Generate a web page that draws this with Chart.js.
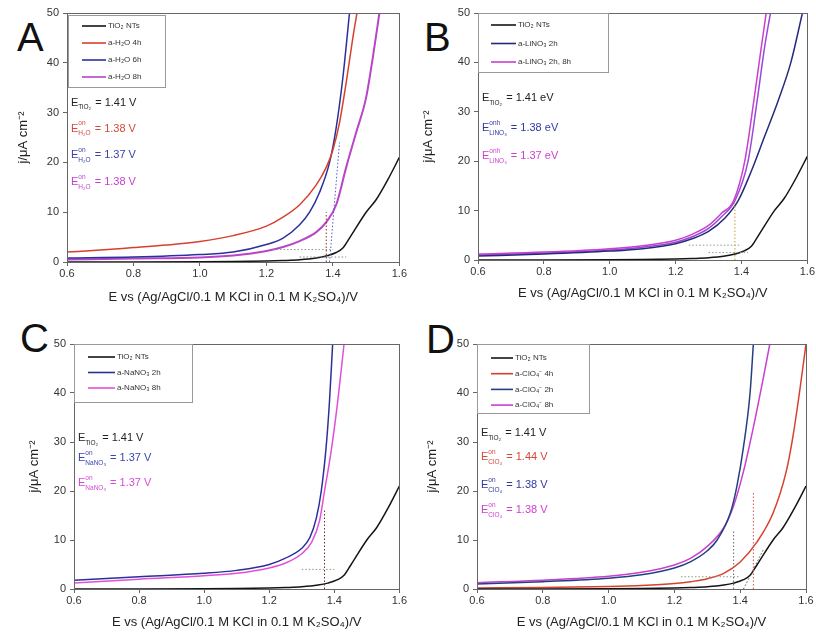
<!DOCTYPE html>
<html><head><meta charset="utf-8">
<script src="https://cdn.jsdelivr.net/npm/chart.js@4"></script>
<style>
body{margin:0;background:#fff;width:816px;height:637px;position:relative;overflow:hidden;font-family:"Liberation Sans",Arial,sans-serif;}
.panel{position:absolute;}
.letter{position:absolute;font-size:40px;line-height:40px;color:#111;font-family:"Liberation Sans",Arial,sans-serif;}
</style></head>
<body>
<div class="letter" style="left:17px;top:17px">A</div>
<div class="letter" style="left:424px;top:17px">B</div>
<div class="letter" style="left:20px;top:318px">C</div>
<div class="letter" style="left:426px;top:319px">D</div>
<div class="panel" style="left:0;top:0;width:408px;height:318px"><canvas id="cA"></canvas></div>
<div class="panel" style="left:406px;top:0;width:410px;height:318px"><canvas id="cB"></canvas></div>
<div class="panel" style="left:0;top:318px;width:408px;height:319px"><canvas id="cC"></canvas></div>
<div class="panel" style="left:406px;top:318px;width:410px;height:319px"><canvas id="cD"></canvas></div>
<script>
// ---------- data ----------
const X_TICKS = [0.6, 0.8, 1.0, 1.2, 1.4, 1.6];
const Y_TICKS = [0, 10, 20, 30, 40, 50];

const TIO2_E = [0.6,0.8,1.0,1.1,1.2,1.25,1.3,1.35,1.38,1.41,1.43,1.45,1.5,1.53,1.565,1.6];
const TIO2_J = [0,0,0.05,0.1,0.2,0.3,0.45,0.8,1.2,1.9,2.8,4.8,10,12.5,16.5,21];

// Panel A
const A_R_E = [0.6,0.7,0.8,0.9,1.0,1.1,1.2,1.25,1.3,1.35,1.38,1.4,1.42,1.44,1.46,1.475];
const A_R_J = [2,2.4,2.9,3.4,4.1,5.3,7.2,9,11.5,15.5,19,22.5,28,36,45,51];
const A_B_E = [0.6,0.8,1.0,1.1,1.2,1.25,1.3,1.33,1.36,1.39,1.41,1.43,1.45];
const A_B_J = [0.8,1.0,1.5,2.0,3.5,4.8,7.5,10,14,20,27,37,50];
const A_M_E = [0.6,0.8,1.0,1.1,1.2,1.25,1.3,1.35,1.38,1.41,1.44,1.47,1.5,1.52,1.54];
const A_M_J = [0.5,0.7,0.9,1.3,2.2,3.0,4.2,6,8,11.5,19,26,33,41,50];

// Panel B
const B_K_E = [0.6,0.8,1.0,1.1,1.2,1.25,1.3,1.35,1.39,1.43,1.47,1.51,1.55,1.585];
const B_K_J = [0.8,1.2,1.8,2.3,3.3,4.3,5.8,8.5,12,18,25,32,40,50];
const B_M_E = [0.6,0.8,1.0,1.1,1.2,1.25,1.3,1.34,1.376,1.41,1.437,1.46,1.475];
const B_M_J = [1.2,1.6,2.3,2.9,4.0,5.2,7.0,9.5,12,20,32,43,50];
const B_V_E = [0.6,0.8,1.0,1.1,1.2,1.25,1.3,1.34,1.38,1.42,1.447,1.47,1.488];
const B_V_J = [1.0,1.4,2.0,2.6,3.6,4.7,6.4,8.8,12,20,32,43,50];

// Panel C
const C_B_E = [0.6,0.8,1.0,1.1,1.2,1.25,1.3,1.325,1.345,1.36,1.375,1.385,1.395];
const C_B_J = [1.8,2.5,3.2,3.8,5.0,6.3,8.3,10.5,14.5,20,29,38,50];
const C_M_E = [0.6,0.8,1.0,1.1,1.2,1.25,1.3,1.33,1.355,1.37,1.39,1.41,1.43];
const C_M_J = [1.2,2.0,2.7,3.2,4.3,5.3,7.2,9.5,14,20,28,38,50];

// Panel D
const D_R_E = [0.6,0.8,1.0,1.1,1.2,1.25,1.3,1.35,1.4,1.45,1.5,1.54,1.56,1.58,1.6];
const D_R_J = [0.2,0.3,0.5,0.7,1.1,1.5,2.1,3.2,5.5,9.5,15.5,24,31,40,50];
const D_B_E = [0.6,0.8,1.0,1.1,1.2,1.25,1.3,1.33,1.37,1.39,1.41,1.43,1.44];
const D_B_J = [1.0,1.5,2.2,2.9,4.3,5.6,7.8,10,15.5,21,29,40,50];
const D_M_E = [0.6,0.8,1.0,1.1,1.2,1.25,1.3,1.35,1.38,1.41,1.44,1.47,1.49];
const D_M_J = [1.3,1.8,2.6,3.4,4.9,6.3,8.7,12.5,17,24,33,43,50];

// onset construction (dotted) lines
const A_T1_E = [1.38,1.38], A_T1_J = [0,10];
const A_T2_E = [1.22,1.40], A_T2_J = [2.5,2.5];
const A_T3_E = [1.30,1.44], A_T3_J = [1.0,1.0];
const A_T4_E = [1.39,1.42], A_T4_J = [0,24];
const B_T1_E = [1.38,1.38], B_T1_J = [0,12];
const B_T2_E = [1.24,1.40], B_T2_J = [3,3];
const B_T3_E = [1.30,1.42], B_T3_J = [1.5,1.5];
const C_T1_E = [1.37,1.37], C_T1_J = [0,16];
const C_T2_E = [1.30,1.40], C_T2_J = [4,4];
const D_T1_E = [1.38,1.38], D_T1_J = [0,12];
const D_T2_E = [1.44,1.44], D_T2_J = [0,20];
const D_T3_E = [1.22,1.40], D_T3_J = [2.5,2.5];
const D_T4_E = [1.41,1.47], D_T4_J = [0,8];

const Y_TITLE = 'j/\u03bcA cm\u207b\u00b2';
const X_TITLE = 'E vs (Ag/AgCl/0.1 M KCl in 0.1 M K\u2082SO\u2084)/V';

// ---------- helpers ----------
function pts(E, J){ return E.map((e,i)=>({x:e, y:J[i]})); }
function line(label, E, J, color, w){
  return {label, data:pts(E,J), borderColor:color, backgroundColor:color, borderWidth:w||1.5,
          pointRadius:0, cubicInterpolationMode:'monotone', fill:false};
}
function dots(E, J, color){
  return {label:'', data:pts(E,J), borderColor:color, borderWidth:1, borderDash:[1.5,2],
          pointRadius:0, fill:false, _aux:true};
}

Chart.defaults.font.family = '"Liberation Sans", Arial, sans-serif';
Chart.defaults.animation = false;

const framePlugin = {
  id:'frame',
  afterDatasetsDraw(chart){
    const {ctx, chartArea:a} = chart;
    ctx.save(); ctx.strokeStyle='#666'; ctx.lineWidth=1;
    ctx.strokeRect(Math.round(a.left)+0.5, Math.round(a.top)+0.5, Math.round(a.right-a.left), Math.round(a.bottom-a.top));
    ctx.restore();
  }
};

const boxLegend = {
  id:'boxLegend',
  afterDatasetsDraw(chart, args, o){
    const {ctx, chartArea:a} = chart;
    const x0 = a.left + o.dx, y0 = a.top + o.dy;
    ctx.save();
    ctx.fillStyle='#fff'; ctx.fillRect(x0, y0, o.w, o.h);
    ctx.strokeStyle='#999'; ctx.lineWidth=1;
    ctx.strokeRect(Math.round(x0)+0.5, Math.round(y0)+0.5, o.w, o.h);
    ctx.font = '8px "Liberation Sans", Arial, sans-serif';
    ctx.textBaseline='middle';
    let i=0;
    chart.data.datasets.forEach(ds=>{
      if (ds._aux || ds._nolegend) return;
      const y = y0 + o.first + i*o.step;
      ctx.strokeStyle = ds.borderColor; ctx.lineWidth=1.6;
      ctx.beginPath(); ctx.moveTo(x0+o.x1, y); ctx.lineTo(x0+o.x2, y); ctx.stroke();
      ctx.fillStyle='#333'; ctx.fillText(ds.label, x0+o.x2+2, y);
      i++;
    });
    ctx.restore();
  }
};

const eLabels = {
  id:'eLabels',
  afterDatasetsDraw(chart, args, o){
    const {ctx, chartArea:a, scales:{y}} = chart;
    ctx.save();
    ctx.textBaseline='middle';
    o.items.forEach(it=>{
      let x = a.left + o.dx;
      const yy = y.getPixelForValue(it.at);
      ctx.fillStyle = it.color;
      ctx.font = '11px "Liberation Sans", Arial, sans-serif';
      ctx.fillText('E', x, yy);
      x += ctx.measureText('E').width;
      ctx.font = '6.5px "Liberation Sans", Arial, sans-serif';
      let ws = 0, wb = 0;
      if (it.sup){ ctx.fillText(it.sup, x, yy-5); ws = ctx.measureText(it.sup).width; }
      if (it.sub){ ctx.fillText(it.sub, x, yy+5); wb = ctx.measureText(it.sub).width; }
      x += Math.max(ws, wb) + 1;
      ctx.font = '11px "Liberation Sans", Arial, sans-serif';
      ctx.fillText(it.rest, x, yy);
    });
    ctx.restore();
  }
};

function makePanel(id, W, H, pad, yW, xH, ytPad, xtPad, datasets, legendOpt, eItems){
  const cv = document.getElementById(id);
  cv.width = W; cv.height = H;
  cv.style.width = W+'px'; cv.style.height = H+'px';
  new Chart(cv, {
    type:'line',
    data:{datasets},
    options:{
      responsive:false, maintainAspectRatio:false,
      layout:{padding:pad},
      plugins:{legend:{display:false}, tooltip:{enabled:false},
               boxLegend:legendOpt, eLabels:{dx:4, items:eItems}},
      scales:{
        x:{type:'linear', min:0.6, max:1.6,
           afterBuildTicks:s=>{ s.ticks = X_TICKS.map(v=>({value:v})); },
           afterFit:s=>{ s.height = xH; },
           ticks:{callback:v=>Number(v).toFixed(1), color:'#333', font:{size:11}, padding:1, maxRotation:0},
           grid:{drawOnChartArea:false, drawTicks:true, tickLength:4, color:'#666'},
           border:{color:'#666'},
           title:{display:true, text:X_TITLE, color:'#222', font:{size:13}, padding:{top:0,bottom:xtPad}}},
        y:{type:'linear', min:0, max:50,
           afterBuildTicks:s=>{ s.ticks = Y_TICKS.map(v=>({value:v})); },
           afterFit:s=>{ s.width = yW; },
           ticks:{color:'#333', font:{size:11}, padding:4},
           grid:{drawOnChartArea:false, drawTicks:true, tickLength:4, color:'#666'},
           border:{color:'#666'},
           title:{display:true, text:Y_TITLE, color:'#222', font:{size:13}, padding:{top:ytPad,bottom:0}}}
      }
    },
    plugins:[framePlugin, boxLegend, eLabels]
  });
}

const BLACK='#151515', RED='#d8402e', BLUE='#2b2f9c', MAG='#c93fd0', VIO='#9a48d8', PINK='#e050d8';

makePanel('cA', 408, 318, {top:13,right:8,left:0,bottom:0}, 67, 56, 16, 13, [
  dots(A_T2_E, A_T2_J, '#7fa07f'), dots(A_T3_E, A_T3_J, '#888'),
  dots(A_T1_E, A_T1_J, '#8a2a2a'), dots(A_T4_E, A_T4_J, '#4a5ad0'),
  line('TiO\u2082 NTs', TIO2_E, TIO2_J, BLACK),
  line('a-H\u2082O 4h', A_R_E, A_R_J, RED),
  line('a-H\u2082O 6h', A_B_E, A_B_J, BLUE),
  line('a-H\u2082O 8h', A_M_E, A_M_J, '#b844c8', 2)
], {dx:1, dy:2, w:97, h:72, first:11, step:17, x1:14, x2:38},
[{at:32, color:'#222', sub:'TiO\u2082', sup:'', rest:' = 1.41 V'},
 {at:26.8, color:'#d24a3a', sub:'H\u2082O', sup:'on', rest:' = 1.38 V'},
 {at:21.4, color:'#3b3fa6', sub:'H\u2082O', sup:'on', rest:' = 1.37 V'},
 {at:16, color:'#c53fd0', sub:'H\u2082O', sup:'on', rest:' = 1.38 V'}]);

makePanel('cB', 410, 318, {top:13,right:8,left:0,bottom:0}, 72, 58, 15, 17, [
  dots(B_T2_E, B_T2_J, '#8aa08a'), dots(B_T3_E, B_T3_J, '#999'),
  dots(B_T1_E, B_T1_J, '#c8a030'),
  line('TiO\u2082 NTs', TIO2_E, TIO2_J, BLACK),
  line('a-LiNO\u2083 2h', B_K_E, B_K_J, '#262a7a'),
  line('a-LiNO\u2083 2h, 8h', B_M_E, B_M_J, MAG),
  Object.assign(line('', B_V_E, B_V_J, VIO), {_nolegend:true})
], {dx:0, dy:0, w:130, h:59, first:12, step:18.5, x1:13, x2:38},
[{at:32.8, color:'#222', sub:'TiO\u2082', sup:'', rest:' = 1.41 eV'},
 {at:26.7, color:'#2f3aa0', sub:'LiNO\u2083', sup:'onh', rest:' = 1.38 eV'},
 {at:21, color:'#d040d0', sub:'LiNO\u2083', sup:'onh', rest:' = 1.37 eV'}]);

makePanel('cC', 408, 319, {top:26,right:1,left:0,bottom:0}, 74, 48, 27, 7, [
  dots(C_T2_E, C_T2_J, '#7fa07f'), dots(C_T1_E, C_T1_J, '#6a2a2a'),
  line('TiO\u2082 NTs', TIO2_E, TIO2_J, BLACK),
  line('a-NaNO\u2083 2h', C_B_E, C_B_J, BLUE),
  line('a-NaNO\u2083 8h', C_M_E, C_M_J, PINK)
], {dx:0, dy:0, w:118, h:58, first:13, step:15.5, x1:14, x2:41},
[{at:30.8, color:'#222', sub:'TiO\u2082', sup:'', rest:' = 1.41 V'},
 {at:26.7, color:'#3a45b0', sub:'NaNO\u2083', sup:'on', rest:' = 1.37 V'},
 {at:21.6, color:'#d848d8', sub:'NaNO\u2083', sup:'on', rest:' = 1.37 V'}]);

makePanel('cD', 410, 319, {top:26,right:10,left:0,bottom:0}, 71, 48, 19, 7, [
  dots(D_T3_E, D_T3_J, '#7fa07f'), dots(D_T1_E, D_T1_J, '#666'),
  dots(D_T2_E, D_T2_J, '#d05050'), dots(D_T4_E, D_T4_J, '#555'),
  line('TiO\u2082 NTs', TIO2_E, TIO2_J, BLACK),
  line('a-ClO\u2084\u207b 4h', D_R_E, D_R_J, RED),
  line('a-ClO\u2084\u207b 2h', D_B_E, D_B_J, '#24407e'),
  line('a-ClO\u2084\u207b 8h', D_M_E, D_M_J, MAG)
], {dx:0, dy:0, w:112, h:69, first:14, step:15.7, x1:14, x2:36},
[{at:31.8, color:'#222', sub:'TiO\u2082', sup:'', rest:' = 1.41 V'},
 {at:26.9, color:'#d24a3a', sub:'ClO\u2084', sup:'on', rest:' = 1.44 V'},
 {at:21.2, color:'#2f3aa0', sub:'ClO\u2084', sup:'on', rest:' = 1.38 V'},
 {at:16.1, color:'#d040d0', sub:'ClO\u2084', sup:'on', rest:' = 1.38 V'}]);
</script>
</body></html>
